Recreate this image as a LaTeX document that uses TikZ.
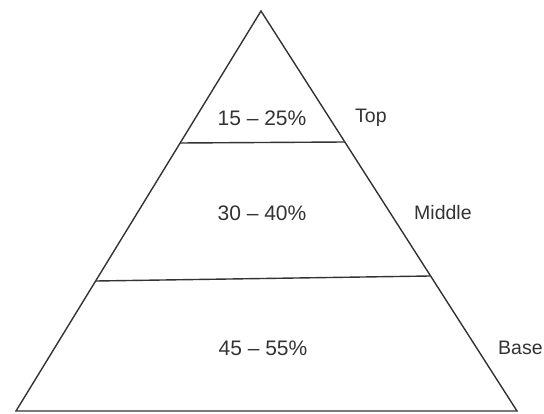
\documentclass[tikz,border=0pt]{standalone}
\usepackage{fontspec}
\setmainfont{Liberation Sans}
\begin{document}
\begin{tikzpicture}[x=1pt,y=-1pt,
  edge/.style={draw=black!80,line width=1.4pt,line join=miter},
  lbl/.style={text=black!80,font=\fontsize{21}{24}\selectfont,inner sep=0pt},
  side/.style={text=black!80,font=\fontsize{19.5}{23}\selectfont,inner sep=0pt,anchor=west}]
\useasboundingbox (0,0) rectangle (544,414);
\coordinate (apex) at (261,11);
\coordinate (bl) at (16,411);
\coordinate (br) at (517,411);
\coordinate (l1) at (180,143);
\coordinate (r1) at (345,142);
\coordinate (l2) at (96,281);
\coordinate (r2) at (430,276);
\draw[edge] (bl) -- (apex) -- (br) -- cycle;
\draw[edge] (l1) -- (r1);
\draw[edge] (l2) -- (r2);
\node[lbl] (p1) at (262,118) {15 – 25\%};
\node[lbl] (p2) at (262,213) {30 – 40\%};
\node[lbl] (p3) at (263,348) {45 – 55\%};
\node[side] (top) at (355,118) {Top};
\node[side] (mid) at (414,213) {Middle};
\node[side] (base) at (498,348) {Base};
\end{tikzpicture}
\end{document}
